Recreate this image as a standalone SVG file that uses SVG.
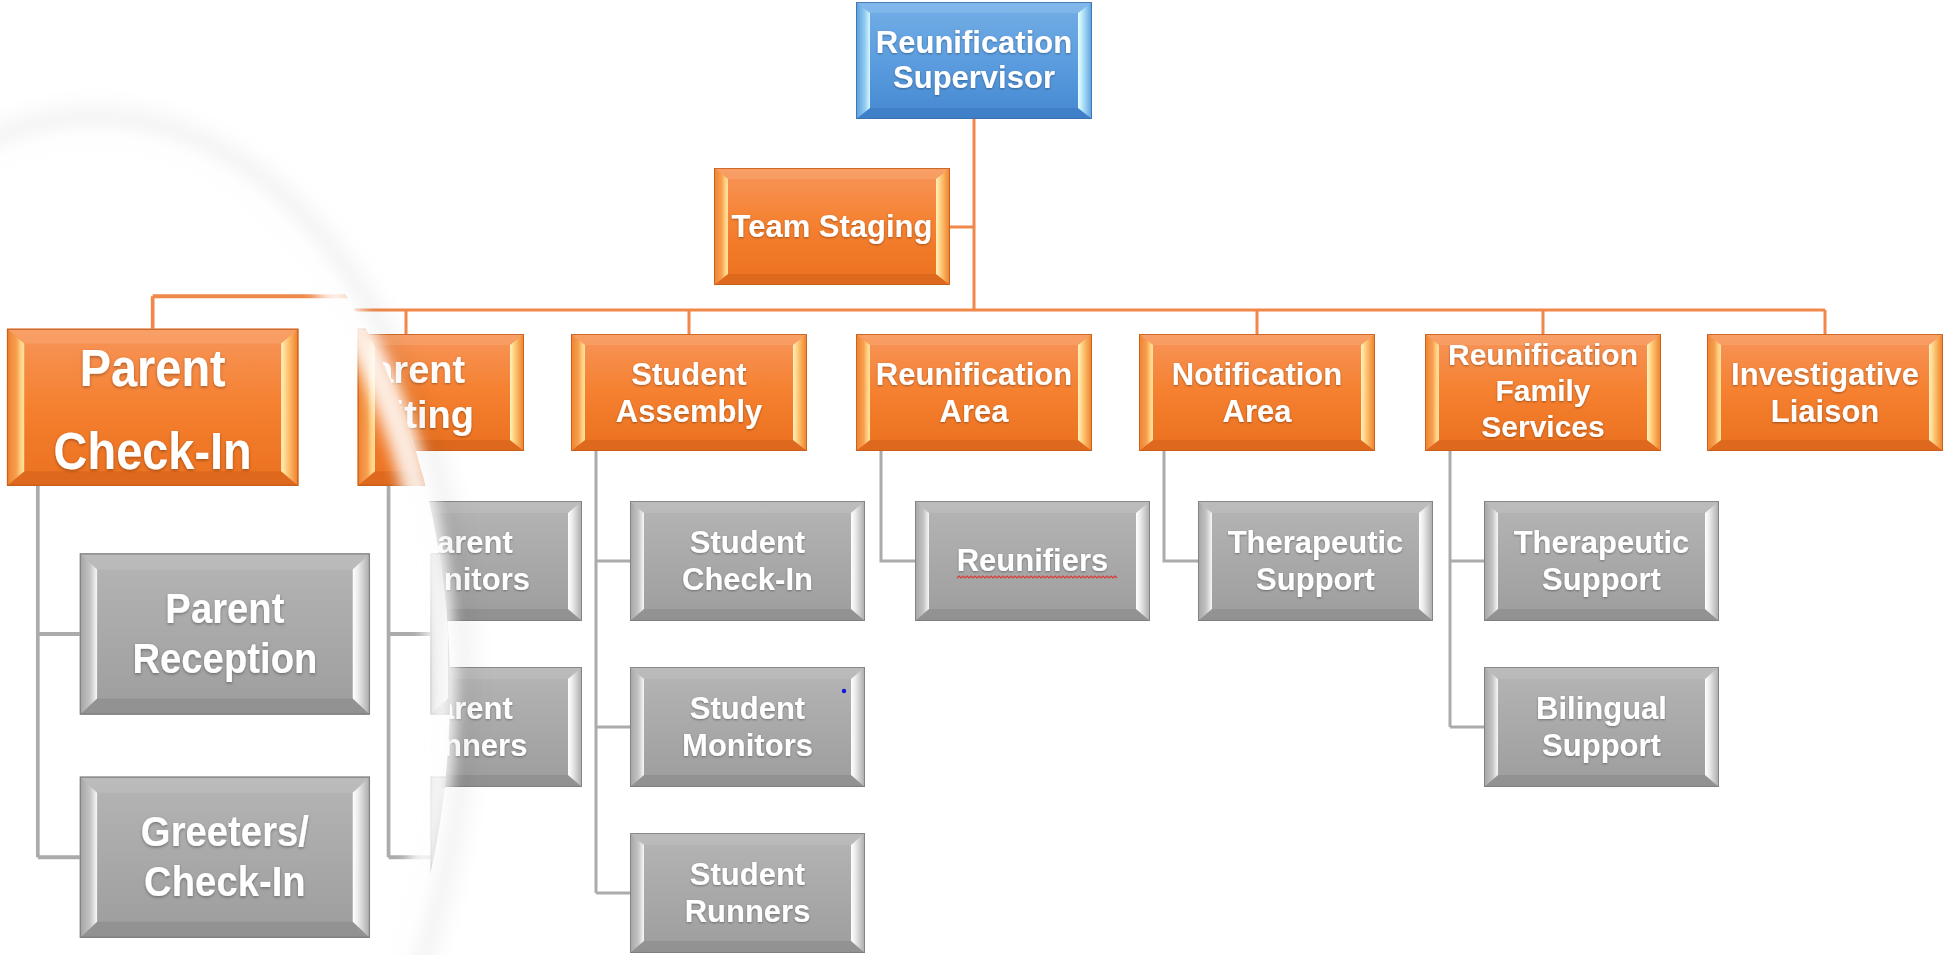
<svg xmlns="http://www.w3.org/2000/svg" width="1944" height="955" viewBox="0 0 1944 955">
<style>
.t{font-family:"Liberation Sans",Arial,Helvetica,sans-serif;font-weight:700;font-size:31px;fill:#ffffff;text-anchor:middle;filter:url(#ts)}
.t30{font-size:30px}
.big{font-size:38px}
.co{stroke:#f0884a;stroke-width:3;fill:none}
.cg{stroke:#ababab;stroke-width:3;fill:none}
</style>
<defs>
<filter id="ts" x="-10%" y="-20%" width="120%" height="140%"><feDropShadow dx="0" dy="1" stdDeviation="1.2" flood-color="#000" flood-opacity="0.35"/></filter>
<filter id="blurA" x="-20%" y="-20%" width="140%" height="140%"><feGaussianBlur stdDeviation="10"/></filter>
<filter id="blurB" x="-20%" y="-20%" width="140%" height="140%"><feGaussianBlur stdDeviation="7"/></filter>
<clipPath id="lensClip"><ellipse cx="95" cy="690" rx="355" ry="558"/></clipPath>
<linearGradient id="gO" x1="0" y1="0" x2="0" y2="1"><stop offset="0" stop-color="#f7955a"/><stop offset=".5" stop-color="#f5802f"/><stop offset="1" stop-color="#ea701f"/></linearGradient>
<linearGradient id="gOL" x1="0" y1="0" x2="1" y2="0"><stop offset="0" stop-color="#f0802f"/><stop offset=".55" stop-color="#f6a050"/><stop offset=".8" stop-color="#ffd080"/><stop offset="1" stop-color="#fde2a0"/></linearGradient>
<linearGradient id="gOR" x1="0" y1="0" x2="1" y2="0"><stop offset="0" stop-color="#fff2c0"/><stop offset=".25" stop-color="#ffd68a"/><stop offset=".7" stop-color="#f6a04a"/><stop offset="1" stop-color="#ee7e2e"/></linearGradient>
<linearGradient id="gG" x1="0" y1="0" x2="0" y2="1"><stop offset="0" stop-color="#b5b5b5"/><stop offset=".5" stop-color="#a9a9a9"/><stop offset="1" stop-color="#9d9d9d"/></linearGradient>
<linearGradient id="gGL" x1="0" y1="0" x2="1" y2="0"><stop offset="0" stop-color="#a4a4a4"/><stop offset=".6" stop-color="#c4c4c4"/><stop offset="1" stop-color="#f8f8f8"/></linearGradient>
<linearGradient id="gGR" x1="0" y1="0" x2="1" y2="0"><stop offset="0" stop-color="#ffffff"/><stop offset=".3" stop-color="#ececec"/><stop offset="1" stop-color="#a9a9a9"/></linearGradient>
<linearGradient id="gB" x1="0" y1="0" x2="0" y2="1"><stop offset="0" stop-color="#74aee6"/><stop offset=".5" stop-color="#5b9ddf"/><stop offset="1" stop-color="#4688d0"/></linearGradient>
<linearGradient id="gBL" x1="0" y1="0" x2="1" y2="0"><stop offset="0" stop-color="#5b9ddf"/><stop offset=".6" stop-color="#8cc8f0"/><stop offset="1" stop-color="#d8f6ff"/></linearGradient>
<linearGradient id="gBR" x1="0" y1="0" x2="1" y2="0"><stop offset="0" stop-color="#e8ffff"/><stop offset=".3" stop-color="#b8e8fa"/><stop offset="1" stop-color="#5b9ddf"/></linearGradient>
<g id="boxO">
<rect width="236" height="117" fill="url(#gO)"/>
<polygon points="0,0 236,0 222,11 14,11" fill="#f9a772" fill-opacity=".55"/>
<polygon points="0,117 14,106 222,106 236,117" fill="#d9651c" fill-opacity=".75"/>
<polygon points="0,0 14,11 14,106 0,117" fill="url(#gOL)"/>
<polygon points="236,0 222,11 222,106 236,117" fill="url(#gOR)"/>
<rect x=".5" y=".5" width="235" height="116" fill="none" stroke="#c25b1a" stroke-opacity=".8"/>
</g>
<g id="boxB">
<rect width="236" height="117" fill="url(#gB)"/>
<polygon points="0,0 236,0 222,11 14,11" fill="#8cc0ee" fill-opacity=".55"/>
<polygon points="0,117 14,106 222,106 236,117" fill="#3c7cc4" fill-opacity=".75"/>
<polygon points="0,0 14,11 14,106 0,117" fill="url(#gBL)"/>
<polygon points="236,0 222,11 222,106 236,117" fill="url(#gBR)"/>
<rect x=".5" y=".5" width="235" height="116" fill="none" stroke="#3a6ea8" stroke-opacity=".8"/>
</g>
<g id="boxG">
<rect width="235" height="120" fill="url(#gG)"/>
<polygon points="0,0 235,0 221,12 14,12" fill="#bdbdbd" fill-opacity=".7"/>
<polygon points="0,120 14,108 221,108 235,120" fill="#8e8e8e" fill-opacity=".75"/>
<polygon points="0,0 14,12 14,108 0,120" fill="url(#gGL)"/>
<polygon points="235,0 221,12 221,108 235,120" fill="url(#gGR)"/>
<rect x=".5" y=".5" width="234" height="119" fill="none" stroke="#7a7a7a" stroke-opacity=".8"/>
</g>
</defs>
<rect width="1944" height="955" fill="#ffffff"/>

<g id="connectors">
<path class="co" d="M974,119 V310 M950,227 H974 M122,310 H1825 M406,310 V334 M689,310 V334 M1257,310 V334 M1543,310 V334 M1825,310 V334"/>
<path class="cg" d="M313,451 V727 M313,561 H347 M313,727 H347"/>
<path class="cg" d="M596,451 V893 M596,561 H630 M596,727 H630 M596,893 H630"/>
<path class="cg" d="M881,451 V561 H915"/>
<path class="cg" d="M1164,451 V561 H1198"/>
<path class="cg" d="M1450,451 V727 M1450,561 H1484 M1450,727 H1484"/>
</g>

<g id="node-reunification-supervisor"><use href="#boxB" x="856" y="2"/><text class="t" x="974" y="53">Reunification</text><text class="t" x="974" y="88">Supervisor</text></g>
<g id="node-team-staging"><use href="#boxO" x="714" y="168"/><text class="t" x="832" y="237">Team Staging</text></g>

<g id="node-parent-waiting"><use href="#boxO" x="288" y="334"/><text class="t big" x="406" y="383">Parent</text><text class="t big" x="406" y="428">Waiting</text></g>
<g id="node-parent-monitors"><use href="#boxG" x="347" y="501"/><text class="t" x="464.5" y="553">Parent</text><text class="t" x="464.5" y="590">Monitors</text></g>
<g id="node-parent-runners"><use href="#boxG" x="347" y="667"/><text class="t" x="464.5" y="719">Parent</text><text class="t" x="464.5" y="756">Runners</text></g>

<g id="node-student-assembly"><use href="#boxO" x="571" y="334"/><text class="t" x="689" y="385">Student</text><text class="t" x="689" y="422">Assembly</text></g>
<g id="node-student-check-in"><use href="#boxG" x="630" y="501"/><text class="t" x="747.5" y="553">Student</text><text class="t" x="747.5" y="590">Check-In</text></g>
<g id="node-student-monitors"><use href="#boxG" x="630" y="667"/><text class="t" x="747.5" y="719">Student</text><text class="t" x="747.5" y="756">Monitors</text><circle cx="844" cy="691" r="2.2" fill="#1414e0"/></g>
<g id="node-student-runners"><use href="#boxG" x="630" y="833"/><text class="t" x="747.5" y="885">Student</text><text class="t" x="747.5" y="922">Runners</text></g>

<g id="node-reunification-area"><use href="#boxO" x="856" y="334"/><text class="t" x="974" y="385">Reunification</text><text class="t" x="974" y="422">Area</text></g>
<g id="node-reunifiers"><use href="#boxG" x="915" y="501"/><text class="t" x="1032.5" y="571">Reunifiers</text>
<path d="M957,578 l2,-2 l2,2 l2,-2 l2,2 l2,-2 l2,2 l2,-2 l2,2 l2,-2 l2,2 l2,-2 l2,2 l2,-2 l2,2 l2,-2 l2,2 l2,-2 l2,2 l2,-2 l2,2 l2,-2 l2,2 l2,-2 l2,2 l2,-2 l2,2 l2,-2 l2,2 l2,-2 l2,2 l2,-2 l2,2 l2,-2 l2,2 l2,-2 l2,2 l2,-2 l2,2 l2,-2 l2,2 l2,-2 l2,2 l2,-2 l2,2 l2,-2 l2,2 l2,-2 l2,2 l2,-2 l2,2 l2,-2 l2,2 l2,-2 l2,2 l2,-2 l2,2 l2,-2 l2,2 l2,-2 l2,2 l2,-2 l2,2 l2,-2 l2,2 l2,-2 l2,2 l2,-2 l2,2 l2,-2 l2,2 l2,-2 l2,2 l2,-2 l2,2 l2,-2 l2,2 l2,-2 l2,2 l2,-2 l2,2" fill="none" stroke="#d83a3a" stroke-width="1.2"/></g>

<g id="node-notification-area"><use href="#boxO" x="1139" y="334"/><text class="t" x="1257" y="385">Notification</text><text class="t" x="1257" y="422">Area</text></g>
<g id="node-therapeutic-support-1"><use href="#boxG" x="1198" y="501"/><text class="t" x="1315.5" y="553">Therapeutic</text><text class="t" x="1315.5" y="590">Support</text></g>

<g id="node-reunification-family-services"><use href="#boxO" x="1425" y="334"/><text class="t t30" x="1543" y="365">Reunification</text><text class="t t30" x="1543" y="401">Family</text><text class="t t30" x="1543" y="437">Services</text></g>
<g id="node-therapeutic-support-2"><use href="#boxG" x="1484" y="501"/><text class="t" x="1601.5" y="553">Therapeutic</text><text class="t" x="1601.5" y="590">Support</text></g>
<g id="node-bilingual-support"><use href="#boxG" x="1484" y="667"/><text class="t" x="1601.5" y="719">Bilingual</text><text class="t" x="1601.5" y="756">Support</text></g>

<g id="node-investigative-liaison"><use href="#boxO" x="1707" y="334"/><text class="t" x="1825" y="385">Investigative</text><text class="t" x="1825" y="422">Liaison</text></g>

<g id="lens">
<g clip-path="url(#lensClip)">
<rect x="-300" y="100" width="800" height="900" fill="#ffffff"/>
<g transform="matrix(1.235 0 0 1.345 2 -120.6)">
<g id="lens-connectors">
<path class="co" d="M122,310 H560 M122,310 V334 M406,310 V334"/>
<path class="cg" d="M29,451 V727 M29,561 H63 M29,727 H63 M313,451 V727 M313,561 H347 M313,727 H347"/>
</g>
<use href="#boxO" x="288" y="334"/>
<use href="#boxG" x="347" y="501"/>
<use href="#boxG" x="347" y="667"/>
<g id="node-parent-check-in"><use href="#boxO" x="4" y="334"/><text class="t big" x="122" y="377">Parent</text><text class="t big" x="122" y="438">Check-In</text></g>
<g id="node-parent-reception"><use href="#boxG" x="63" y="501"/><text class="t" x="180.5" y="553">Parent</text><text class="t" x="180.5" y="590">Reception</text></g>
<g id="node-greeters-check-in"><use href="#boxG" x="63" y="667"/><text class="t" x="180.5" y="719">Greeters/</text><text class="t" x="180.5" y="756">Check-In</text></g>
</g>
</g>
<ellipse cx="95" cy="690" rx="364" ry="567" fill="none" stroke="#000" stroke-opacity=".045" stroke-width="34" filter="url(#blurA)"/>
<ellipse cx="95" cy="690" rx="346" ry="549" fill="none" stroke="#fff" stroke-opacity=".85" stroke-width="30" filter="url(#blurB)"/>
</g>
</svg>
